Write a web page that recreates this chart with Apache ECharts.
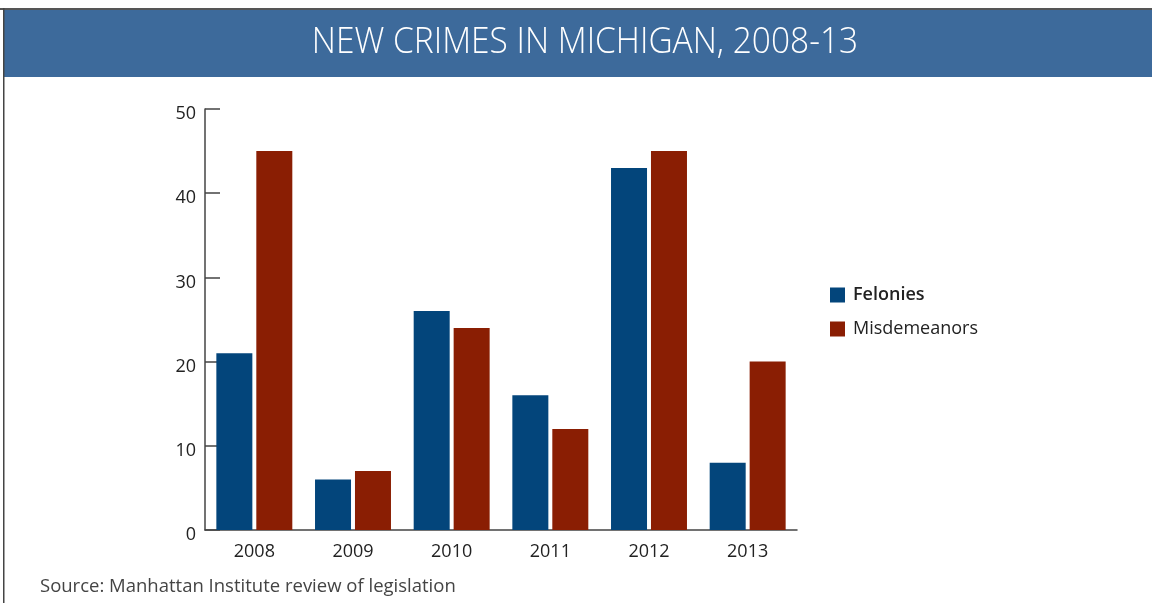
<!DOCTYPE html>
<html>
<head>
<meta charset="utf-8">
<script src="https://cdn.jsdelivr.net/npm/echarts@6/dist/echarts.min.js"></script>
<style>
html,body{margin:0;padding:0;background:#fff;}
#chart{width:1152px;height:603px;}
</style>
</head>
<body>
<div id="chart"></div>
<script>
const categories = ['2008', '2009', '2010', '2011', '2012', '2013'];
const felonies = [21, 6, 26, 16, 43, 8];
const misdemeanors = [45, 7, 24, 12, 45, 20];
const yTicks = [0, 10, 20, 30, 40, 50];
const titleText = 'NEW CRIMES IN MICHIGAN, 2008-13';
const sourceText = 'Source: Manhattan Institute review of legislation';

const chart = echarts.init(document.getElementById('chart'), null, {renderer: 'canvas'});
const font = '"Open Sans", "Noto Sans", sans-serif';
chart.setOption({
  animation: false,
  backgroundColor: '#fff',
  graphic: [
    {type: 'rect', shape: {x: 0, y: 8, width: 1152, height: 2}, style: {fill: '#555'}, silent: true},
    {type: 'rect', shape: {x: 4, y: 10, width: 1148, height: 67}, style: {fill: '#3d6a9b'}, silent: true},
    {type: 'rect', shape: {x: 3, y: 8, width: 1.5, height: 595}, style: {fill: '#444'}, silent: true},
    {type: 'text', x: 585, y: 43, scaleX: 0.93,
     style: {text: titleText, fill: '#fff', align: 'center', verticalAlign: 'middle',
             font: '300 36px "Open Sans", "Noto Sans", sans-serif'}, silent: true},
    {type: 'text', left: 40, top: 577, style: {text: sourceText, fill: '#444', font: '18.5px ' + font}, silent: true}
  ],
  grid: {left: 205, right: 355, top: 109, bottom: 73, containLabel: false},
  legend: [
    {data: ['Felonies'], orient: 'vertical', left: 825, top: 281, itemWidth: 15, itemHeight: 15,
     textStyle: {fontSize: 18, color: '#222', fontFamily: font, fontWeight: 600, padding: [0, 0, 0, 3]}, icon: 'rect'},
    {data: ['Misdemeanors'], orient: 'vertical', left: 825, top: 315, itemWidth: 15, itemHeight: 15,
     textStyle: {fontSize: 18, color: '#222', fontFamily: font, padding: [0, 0, 0, 3]}, icon: 'rect'}
  ],
  xAxis: {
    type: 'category', data: categories,
    axisLine: {lineStyle: {color: '#444', width: 1.5}},
    axisTick: {inside: true, length: 10, lineStyle: {color: '#444', width: 1.5}},
    axisLabel: {fontSize: 18, color: '#222', fontFamily: font, margin: 13}
  },
  yAxis: {
    type: 'value', min: yTicks[0], max: yTicks[yTicks.length - 1], interval: 10,
    axisLine: {show: true, lineStyle: {color: '#444', width: 1.5}},
    axisTick: {show: true, inside: true, length: 15, lineStyle: {color: '#444', width: 1.5}},
    splitLine: {show: false},
    axisLabel: {fontSize: 18, color: '#222', fontFamily: font, margin: 9, verticalAlign: 'top', lineHeight: 10}
  },
  series: [
    {name: 'Felonies', type: 'bar', data: felonies, barWidth: 36, barGap: '11%', itemStyle: {color: '#03457b'}},
    {name: 'Misdemeanors', type: 'bar', data: misdemeanors, barWidth: 36, itemStyle: {color: '#8a1e03'}}
  ]
});
</script>
</body>
</html>
